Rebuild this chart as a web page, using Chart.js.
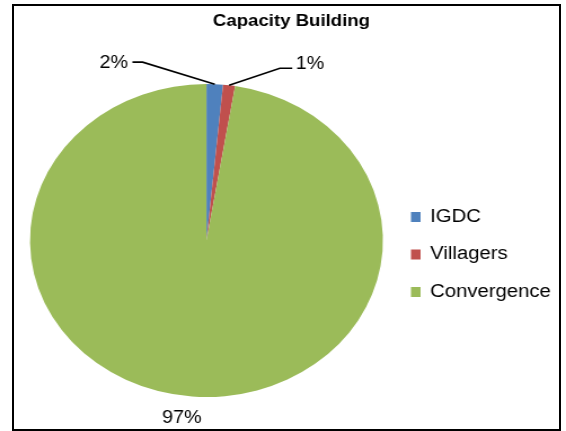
<!DOCTYPE html>
<html>
<head>
<meta charset="utf-8">
<script src="https://cdn.jsdelivr.net/npm/chart.js@4/dist/chart.umd.min.js"></script>
<style>
  body { margin: 0; background: #fff; }
  #wrap { position: relative; width: 566px; height: 431px; }
  /* canvas is drawn 502 wide and stretched to 566, like the reference */
  #chart { position: absolute; left: 0; top: 0; width: 566px; height: 431px; }
  #frame { position: absolute; left: 12px; top: 4px; width: 545px; height: 423px; border: 2px solid #000; }
</style>
</head>
<body>
<div id="wrap">
  <canvas id="chart" width="502" height="431" style="width:566px;height:431px"></canvas>
  <div id="frame"></div>
</div>
<script>
// Chart data
const chartTitle = 'Capacity Building';
const categories = ['IGDC', 'Villagers', 'Convergence'];
const shares = [1.5, 1.1, 97.4];
const sliceColors = ['#4F81BD', '#C0504D', '#9BBB59'];

// label placement relative to the slice edge (leader lines for the thin slices)
const labelLayout = [
  {elbow: [-64, -22], end: [-73, -22], text: [-77, -21], align: 'right'},
  {elbow: [45, -17], end: [56, -17], text: [59, -21], align: 'left'},
  {text: [-9, 22], align: 'center'}
];

const FONT = '"Liberation Sans", Arial, sans-serif';

const piePainter = {
  id: 'piePainter',
  afterDraw(chart) {
    const ctx = chart.ctx;
    const meta = chart.getDatasetMeta(0);
    const values = chart.data.datasets[0].data;
    const total = values.reduce((a, b) => a + b, 0);

    ctx.save();
    // title
    ctx.fillStyle = '#000';
    ctx.font = 'bold 16.5px ' + FONT;
    ctx.textAlign = 'center';
    ctx.textBaseline = 'middle';
    ctx.fillText(chartTitle, 258.5, 21);

    // percentage labels
    ctx.font = '17.5px ' + FONT;
    ctx.strokeStyle = '#000';
    ctx.lineWidth = 1.6;
    meta.data.forEach((arc, i) => {
      const mid = (arc.startAngle + arc.endAngle) / 2;
      const ax = arc.x + Math.cos(mid) * arc.outerRadius;
      const ay = arc.y + Math.sin(mid) * arc.outerRadius;
      const lay = labelLayout[i];
      if (lay.elbow) {
        ctx.beginPath();
        ctx.moveTo(ax, ay);
        ctx.lineTo(ax + lay.elbow[0], ay + lay.elbow[1]);
        ctx.lineTo(ax + lay.end[0], ay + lay.end[1]);
        ctx.stroke();
      }
      ctx.textAlign = lay.align;
      ctx.fillText(Math.round(values[i] / total * 100) + '%', ax + lay.text[0], ay + lay.text[1]);
    });

    // legend
    ctx.font = '18px ' + FONT;
    ctx.textAlign = 'left';
    chart.data.labels.forEach((lab, i) => {
      const y = 217 + i * 37.5;
      ctx.fillStyle = sliceColors[i];
      ctx.fillRect(364.5, y - 5, 8.5, 10);
      ctx.fillStyle = '#000';
      ctx.fillText(lab, 381.5, y);
    });
    ctx.restore();
  }
};

new Chart(document.getElementById('chart'), {
  type: 'pie',
  data: {
    labels: categories,
    datasets: [{
      data: shares,
      backgroundColor: sliceColors,
      borderWidth: 0,
      hoverOffset: 0
    }]
  },
  options: {
    responsive: false,
    animation: false,
    layout: { padding: { left: 26.6, right: 162.4, top: 84, bottom: 34 } },
    plugins: {
      legend: { display: false },
      title: { display: false },
      tooltip: { enabled: false }
    }
  },
  plugins: [piePainter]
});
</script>
</body>
</html>
